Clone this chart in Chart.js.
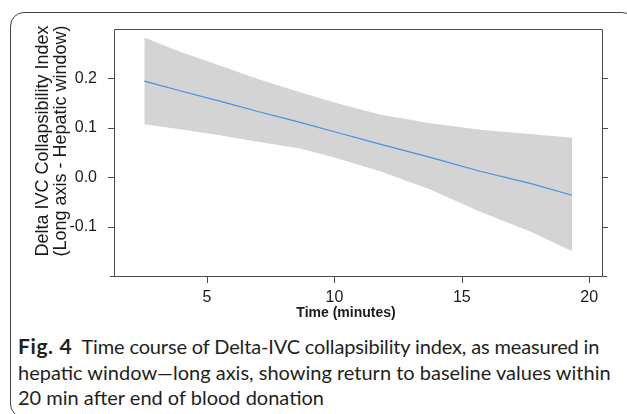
<!DOCTYPE html>
<html>
<head>
<meta charset="utf-8">
<script src="https://cdn.jsdelivr.net/npm/chart.js@4/dist/chart.umd.min.js"></script>
<style>
  html, body { margin: 0; padding: 0; background: #fff; }
  body { width: 627px; height: 414px; position: relative; overflow: hidden; }
  #frame { position: absolute; left: 10px; top: 12px; width: 626px; height: 406px;
           border: 1.3px solid #444; border-radius: 14px; box-sizing: border-box; }
  #wrap { position: absolute; left: 0; top: 0; width: 627px; height: 330px; }
  #caption { position: absolute; left: 18px; top: 333px; width: 610px;
             font-family: Lato, "Open Sans", sans-serif; font-size: 20px; line-height: 25.5px;
             color: #231f20; white-space: nowrap; }
  #caption b { font-weight: 700; font-size: 21px; letter-spacing: 0.6px; }
  #l1 { letter-spacing: -0.15px; }
</style>
</head>
<body>
<div id="frame"></div>
<div id="wrap"><canvas id="c" width="627" height="330"></canvas></div>
<div id="caption"><span id="l1"><b>Fig. 4</b>&nbsp; Time course of Delta-IVC collapsibility index, as measured in</span><br>hepatic window—long axis, showing return to baseline values within<br>20 min after end of blood donation</div>
<script>
// ---- data ----
const timeMin  = [2.54, 3.94, 5.5, 7.0, 8.65, 10.0, 11.79, 13.76, 15.72, 17.68, 19.33];
const fitVals  = [0.1945, 0.175, 0.154, 0.133, 0.111, 0.092, 0.067, 0.040, 0.012, -0.0125, -0.0365];
const upperCI  = [0.283, 0.254, 0.226, 0.199, 0.172, 0.151, 0.127, 0.109, 0.096, 0.0875, 0.080];
const lowerCI  = [0.107, 0.097, 0.085, 0.072, 0.058, 0.040, 0.012, -0.025, -0.070, -0.110, -0.150];
const xTicks   = [5, 10, 15, 20];
const yTicks   = [-0.1, 0.0, 0.1, 0.2];
const xTitle   = "Time (minutes)";
const yTitle   = ["Delta IVC Collapsibility Index", "(Long axis - Hepatic window)"];

const pts = (ys) => timeMin.map((x, i) => ({ x: x, y: ys[i] }));
const FONT = "'Liberation Sans', Arial, sans-serif";

const framePlugin = {
  id: 'framePlugin',
  afterDraw(chart) {
    const { ctx, chartArea: a, scales } = chart;
    const xs = scales.x, ys = scales.y;
    ctx.save();
    ctx.strokeStyle = '#4a4a4a';
    ctx.lineWidth = 1;
    ctx.beginPath();
    ctx.moveTo(a.left + 0.5, a.top + 0.5); ctx.lineTo(a.left + 0.5, a.bottom + 0.5);
    ctx.moveTo(a.left + 0.5, a.top + 0.5); ctx.lineTo(a.right + 0.5, a.top + 0.5);
    ctx.moveTo(a.right + 0.5, a.top + 0.5); ctx.lineTo(a.right + 0.5, a.bottom + 0.5);
    ctx.moveTo(a.left - 4, a.bottom + 0.5); ctx.lineTo(a.right + 5, a.bottom + 0.5);
    yTicks.forEach(v => {
      const y = Math.round(ys.getPixelForValue(v)) + 0.5;
      ctx.moveTo(a.left - 6, y); ctx.lineTo(a.left, y);
      ctx.moveTo(a.right, y); ctx.lineTo(a.right + 6, y);
    });
    xTicks.forEach(v => {
      const x = Math.round(xs.getPixelForValue(v)) + 0.5;
      ctx.moveTo(x, a.bottom); ctx.lineTo(x, a.bottom + 7);
    });
    ctx.stroke();
    ctx.fillStyle = '#1a1a1a';
    ctx.textAlign = 'center';
    ctx.textBaseline = 'middle';
    ctx.font = "bold 14px " + FONT;
    ctx.fillText(xTitle, 346, 313);
    ctx.font = "18px " + FONT;
    ctx.translate(0, 141);
    ctx.rotate(-Math.PI / 2);
    ctx.fillText(yTitle[0], 0, 43);
    ctx.fillText(yTitle[1], 0, 61);
    ctx.restore();
  }
};

new Chart(document.getElementById('c'), {
  type: 'line',
  data: {
    datasets: [
      { label: 'fit', data: pts(fitVals), borderColor: '#4a8fe0', borderWidth: 1.2,
        pointRadius: 0, fill: false, tension: 0, order: 0 },
      { label: 'upper', data: pts(upperCI), borderColor: 'rgba(0,0,0,0)', borderWidth: 0,
        backgroundColor: '#d4d4d4', pointRadius: 0, fill: '+1', tension: 0, order: 1 },
      { label: 'lower', data: pts(lowerCI), borderColor: 'rgba(0,0,0,0)', borderWidth: 0,
        pointRadius: 0, fill: false, tension: 0, order: 2 }
    ]
  },
  options: {
    responsive: false,
    animation: false,
    events: [],
    layout: { padding: { top: 29, right: 25, left: 0, bottom: 0 } },
    plugins: { legend: { display: false }, tooltip: { enabled: false } },
    scales: {
      x: {
        type: 'linear', position: 'bottom', min: 1.35, max: 20.5,
        grid: { display: false }, border: { display: false },
        afterBuildTicks: (s) => { s.ticks = xTicks.map(v => ({ value: v })); },
        afterFit: (s) => { s.height = 54; },
        ticks: { color: '#1a1a1a', font: { family: FONT, size: 16 }, padding: 4,
                 maxRotation: 0, autoSkip: false, callback: (v) => String(v) }
      },
      y: {
        type: 'linear', position: 'left', min: -0.2, max: 0.3,
        grid: { display: false }, border: { display: false },
        afterBuildTicks: (s) => { s.ticks = yTicks.map(v => ({ value: v })); },
        afterFit: (s) => { s.width = 114; },
        ticks: { color: '#1a1a1a', font: { family: FONT, size: 16 }, padding: 9,
                 autoSkip: false, callback: (v) => Number(v).toFixed(1) }
      }
    }
  },
  plugins: [framePlugin]
});
</script>
</body>
</html>
